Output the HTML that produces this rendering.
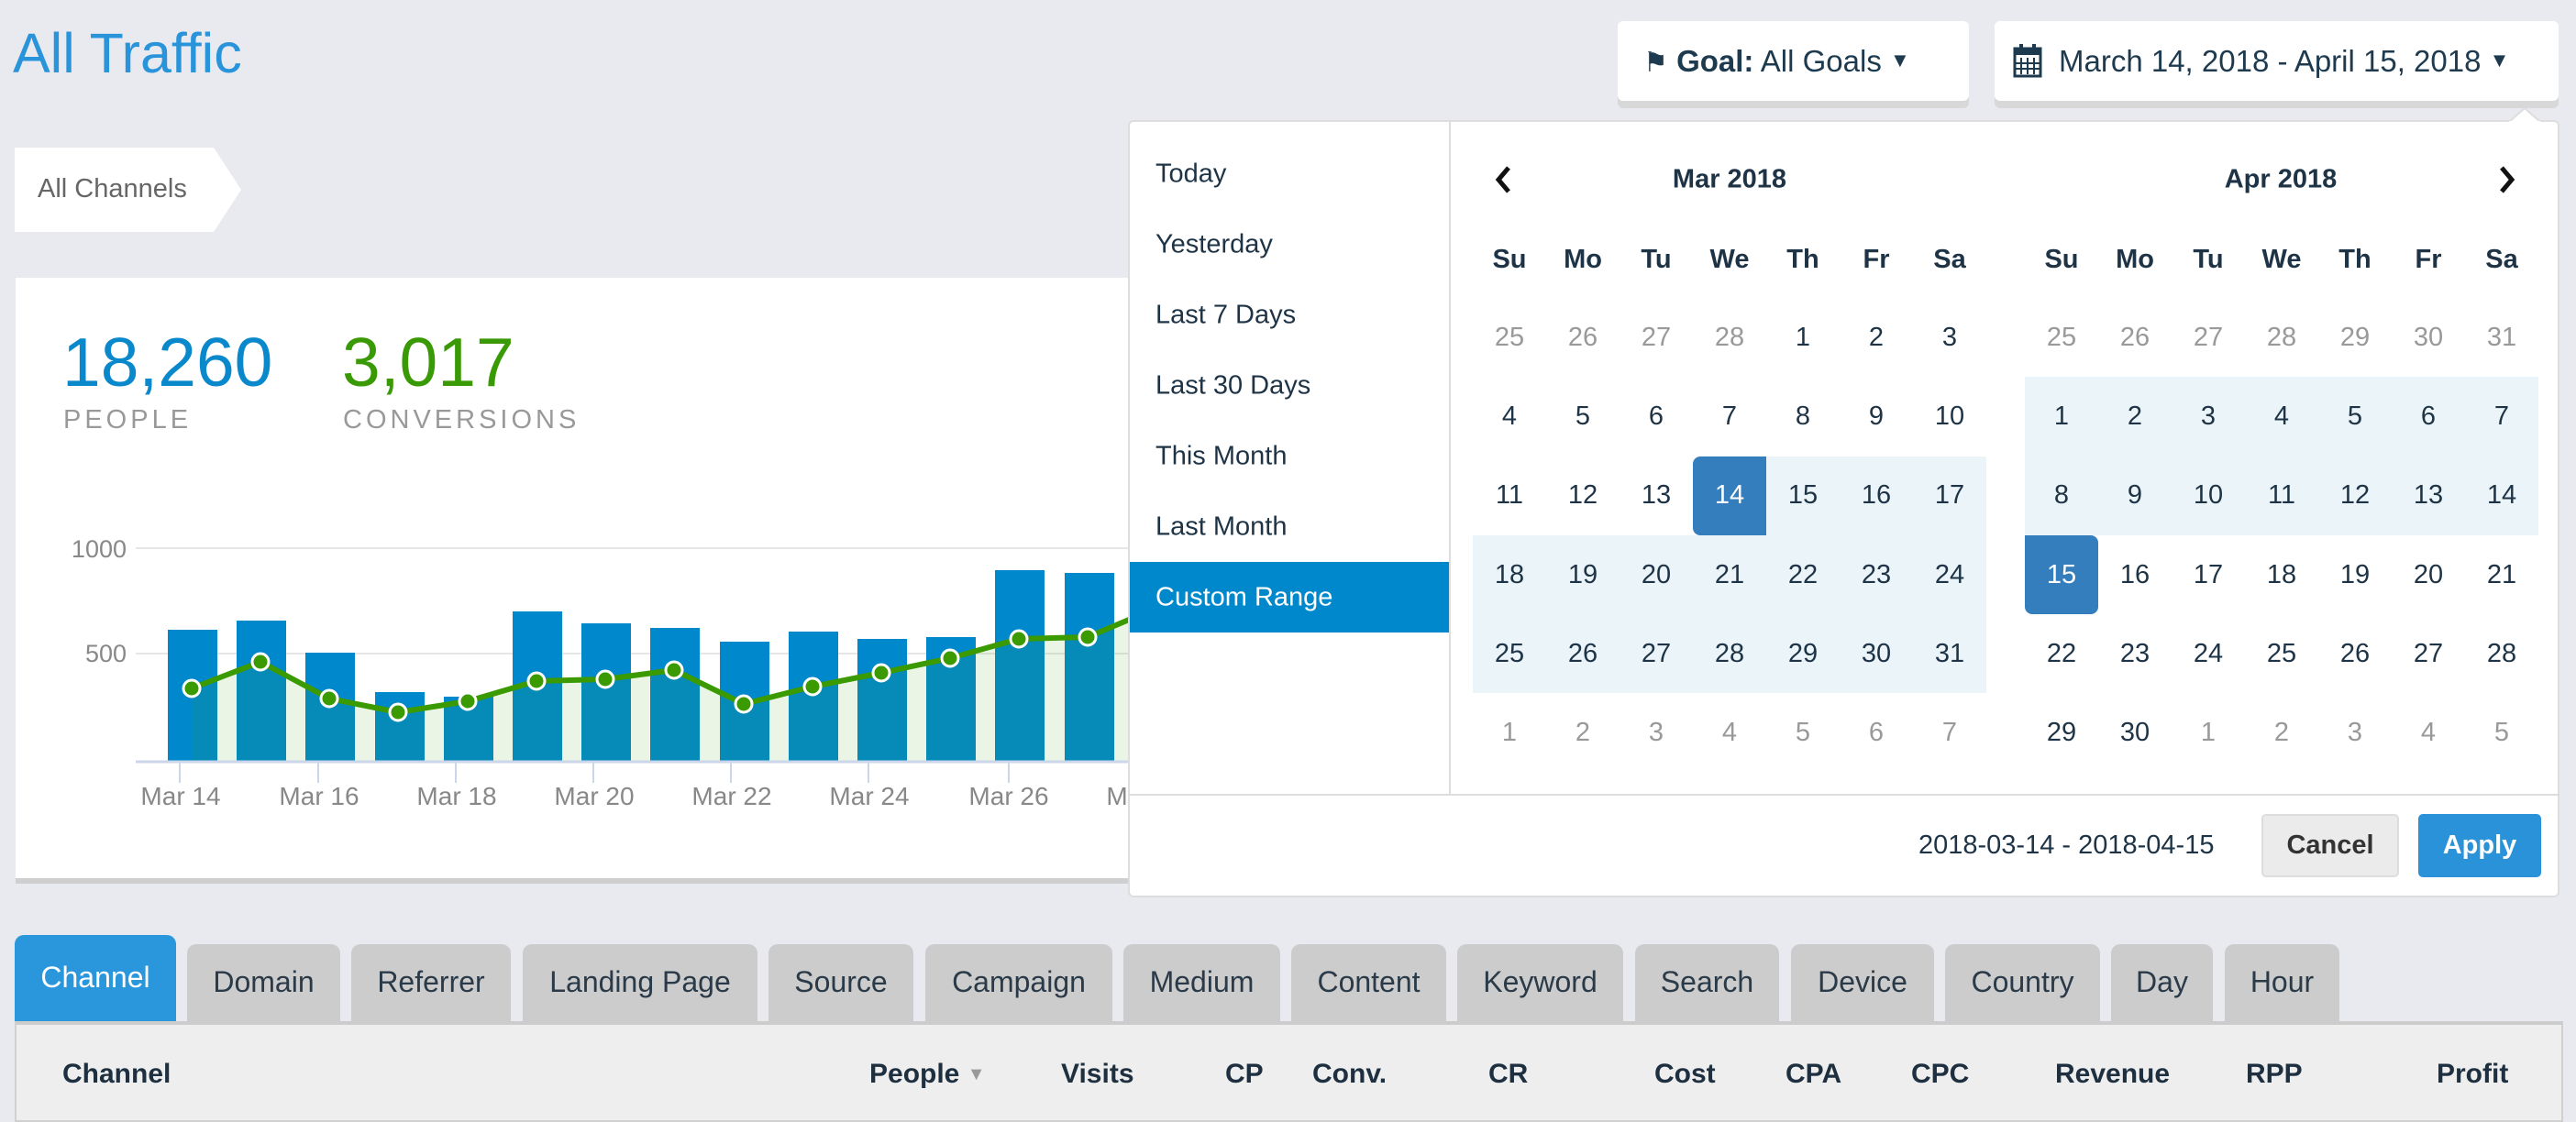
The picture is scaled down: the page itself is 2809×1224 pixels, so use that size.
<!DOCTYPE html>
<html><head><meta charset="utf-8">
<style>
*{box-sizing:border-box;margin:0;padding:0}
body{width:2809px;height:1216px;overflow:hidden;background:#e8eaf0;font-family:"Liberation Sans",sans-serif;color:#1e3446;position:relative}
.a{position:absolute;white-space:nowrap}
.btn{position:absolute;background:#fff;border-radius:6px;box-shadow:0 8px 0 #d8d8d8;}
.rng{position:absolute;left:1260px;font-size:29px;color:#1e3446;transform:translateY(-50%)}
.cell{position:absolute;width:80px;height:86px;line-height:86px;text-align:center;font-size:29px;color:#1e3446}
.off{color:#999}
.hd{font-weight:bold}
.tab{position:absolute;top:1030px;height:86px;background:#cccccc;border-radius:10px 10px 0 0;text-align:center;font-size:32px;line-height:82px;color:#2a3a48}
.th{position:absolute;top:1172px;transform:translateY(-50%);font-weight:bold;font-size:30px;color:#1e3040}
</style></head><body>
<div class="a" style="left:14px;top:23px;font-size:61px;color:#2a94db">All Traffic</div>
<svg class="a" style="left:16px;top:161px" width="250" height="92"><polygon points="0,0 217,0 247,46 217,92 0,92" fill="#fff"/></svg>
<div class="a" style="left:41px;top:190px;font-size:29px;color:#666">All Channels</div>

<!-- card -->
<div class="a" style="left:17px;top:303px;width:2200px;height:655px;background:#fff;box-shadow:0 6px 0 #cfcfcf"></div>
<div class="a" style="left:68px;top:352px;font-size:75px;color:#0a88cc">18,260</div>
<div class="a" style="left:373px;top:352px;font-size:75px;color:#3a9a06">3,017</div>
<div class="a" style="left:69px;top:442px;font-size:29px;color:#999;letter-spacing:4px">PEOPLE</div>
<div class="a" style="left:374px;top:442px;font-size:29px;color:#999;letter-spacing:4px">CONVERSIONS</div>
<svg class="a" style="left:0;top:0" width="1240" height="960">
<g fill="#888" font-size="27" font-family="Liberation Sans,sans-serif" text-anchor="end">
<text x="138" y="608">1000</text><text x="138" y="722">500</text></g>
<line x1="148" y1="598" x2="1240" y2="598" stroke="#e6e6e6" stroke-width="2"/>
<line x1="148" y1="713" x2="1240" y2="713" stroke="#e6e6e6" stroke-width="2"/>
<g fill="#0088cc">
<rect x="183" y="687" width="54" height="143"/><rect x="258" y="677" width="54" height="153"/><rect x="333" y="712" width="54" height="118"/><rect x="409" y="755" width="54" height="75"/><rect x="484" y="760" width="54" height="70"/><rect x="559" y="667" width="54" height="163"/><rect x="634" y="680" width="54" height="150"/><rect x="709" y="685" width="54" height="145"/><rect x="785" y="700" width="54" height="130"/><rect x="860" y="689" width="54" height="141"/><rect x="935" y="697" width="54" height="133"/><rect x="1010" y="695" width="54" height="135"/><rect x="1085" y="622" width="54" height="208"/><rect x="1161" y="625" width="54" height="205"/></g>
<polygon points="209,751 284,722 359,762 434,777 510,765 585,743 660,741 735,731 811,768 886,749 961,734 1036,718 1111,697 1186,695 1250,668 1250,830 209,830" fill="#3a9a00" fill-opacity="0.1"/>
<polyline points="209,751 284,722 359,762 434,777 510,765 585,743 660,741 735,731 811,768 886,749 961,734 1036,718 1111,697 1186,695 1250,668" fill="none" stroke="#3a9a00" stroke-width="6" stroke-linejoin="round"/>
<g fill="#3a9a00" stroke="#fff" stroke-width="3">
<circle cx="209" cy="751" r="9"/><circle cx="284" cy="722" r="9"/><circle cx="359" cy="762" r="9"/><circle cx="434" cy="777" r="9"/><circle cx="510" cy="765" r="9"/><circle cx="585" cy="743" r="9"/><circle cx="660" cy="741" r="9"/><circle cx="735" cy="731" r="9"/><circle cx="811" cy="768" r="9"/><circle cx="886" cy="749" r="9"/><circle cx="961" cy="734" r="9"/><circle cx="1036" cy="718" r="9"/><circle cx="1111" cy="697" r="9"/><circle cx="1186" cy="695" r="9"/></g>
<line x1="148" y1="831" x2="1240" y2="831" stroke="#ccd6eb" stroke-width="3"/>
<g stroke="#ccd6eb" stroke-width="2"><line x1="196" y1="832" x2="196" y2="854"/><line x1="347" y1="832" x2="347" y2="854"/><line x1="497" y1="832" x2="497" y2="854"/><line x1="647" y1="832" x2="647" y2="854"/><line x1="797" y1="832" x2="797" y2="854"/><line x1="947" y1="832" x2="947" y2="854"/><line x1="1100" y1="832" x2="1100" y2="854"/></g>
<g fill="#888" font-size="28" font-family="Liberation Sans,sans-serif" text-anchor="middle">
<text x="197" y="878">Mar 14</text><text x="348" y="878">Mar 16</text><text x="498" y="878">Mar 18</text><text x="648" y="878">Mar 20</text><text x="798" y="878">Mar 22</text><text x="948" y="878">Mar 24</text><text x="1100" y="878">Mar 26</text><text x="1250" y="878">Mar 28</text></g>
</svg>

<!-- top buttons -->
<div class="btn" style="left:1764px;top:23px;width:383px;height:87px"></div>
<div class="a" style="left:1792px;top:48px;font-size:33px;color:#1e3a4f"><span style="font-size:30px">⚑</span> <b>Goal:</b> All Goals <span style="font-size:22px;vertical-align:5px">▼</span></div>
<div class="btn" style="left:2175px;top:23px;width:615px;height:87px"></div>
<svg class="a" style="left:2195px;top:47px" width="32" height="38"><rect x="2" y="6" width="28" height="30" fill="none" stroke="#1e3a4f" stroke-width="3"/><rect x="2" y="6" width="28" height="7" fill="#1e3a4f"/><path d="M9 16v18M16 16v18M23 16v18M3 22h26M3 28h26" stroke="#1e3a4f" stroke-width="2"/><rect x="7" y="1" width="4" height="9" fill="#1e3a4f"/><rect x="21" y="1" width="4" height="9" fill="#1e3a4f"/></svg>
<div class="a" style="left:2245px;top:48px;font-size:33px;color:#1e3a4f">March 14, 2018 - April 15, 2018 <span style="font-size:22px;vertical-align:5px">▼</span></div>

<!-- dropdown -->
<div class="a" style="left:1230px;top:131px;width:1561px;height:848px;background:#fff;border:2px solid #ddd;border-radius:6px"></div>
<svg class="a" style="left:2736px;top:118px" width="34" height="16"><polygon points="0,15 17,0 34,15" fill="#fff" stroke="#ddd" stroke-width="2"/><rect x="0" y="14" width="34" height="3" fill="#fff"/></svg>
<div class="a" style="left:1580px;top:133px;width:2px;height:734px;background:#ddd"></div>
<div class="a" style="left:1232px;top:866px;width:1557px;height:2px;background:#ddd"></div>
<div class="a" style="left:1232px;top:613px;width:348px;height:77px;background:#0088cc"></div>
<div class="rng" style="top:190px">Today</div>
<div class="rng" style="top:267px">Yesterday</div>
<div class="rng" style="top:344px">Last 7 Days</div>
<div class="rng" style="top:421px">Last 30 Days</div>
<div class="rng" style="top:498px">This Month</div>
<div class="rng" style="top:575px">Last Month</div>
<div class="rng" style="top:652px;color:#fff">Custom Range</div>

<div class="a" style="left:1926px;top:498px;width:240px;height:86px;background:#ebf4f8"></div>
<div class="a" style="left:1606px;top:584px;width:560px;height:172px;background:#ebf4f8"></div>
<div class="a" style="left:1846px;top:498px;width:80px;height:86px;background:#357ebd;border-radius:8px 0 0 8px"></div>
<div class="a" style="left:2208px;top:411px;width:560px;height:173px;background:#ebf4f8"></div>
<div class="a" style="left:2208px;top:584px;width:80px;height:86px;background:#357ebd;border-radius:0 8px 8px 8px"></div>

<svg class="a" style="left:1630px;top:180px" width="20" height="32"><polyline points="15,3 4,16 15,29" fill="none" stroke="#111" stroke-width="5"/></svg>
<svg class="a" style="left:2723px;top:180px" width="20" height="32"><polyline points="5,3 16,16 5,29" fill="none" stroke="#111" stroke-width="5"/></svg>
<div class="a hd" style="left:1886px;top:196px;transform:translate(-50%,-50%);font-size:29px">Mar 2018</div>
<div class="a hd" style="left:2487px;top:196px;transform:translate(-50%,-50%);font-size:29px">Apr 2018</div>

<div id="cal"></div>
<script>
(function(){
var h='';var days=['Su','Mo','Tu','We','Th','Fr','Sa'];
function cal(x0,rows){
 for(var i=0;i<7;i++)h+='<div class="cell hd" style="left:'+(x0+i*80)+'px;top:240px">'+days[i]+'</div>';
 for(var r=0;r<6;r++)for(var c=0;c<7;c++){var d=rows[r][c];var cls='cell'+(d[1]?' off':'');var st=d[2]?'color:#fff;':'';
  h+='<div class="'+cls+'" style="'+st+'left:'+(x0+c*80)+'px;top:'+(325+r*86.2)+'px">'+d[0]+'</div>';}
}
function mk(list){var o=[];for(var r=0;r<6;r++)o.push(list.slice(r*7,r*7+7));return o;}
var m=[];[25,26,27,28].forEach(function(d){m.push([d,1])});for(var d=1;d<=31;d++)m.push([d,0,d==14]);for(d=1;d<=7;d++)m.push([d,1]);
var a=[];[25,26,27,28,29,30,31].forEach(function(d){a.push([d,1])});for(d=1;d<=30;d++)a.push([d,0,d==15]);for(d=1;d<=5;d++)a.push([d,1]);
cal(1606,mk(m));cal(2208,mk(a));
document.getElementById('cal').innerHTML=h;
})();
</script>

<div class="a" style="left:2092px;top:906px;font-size:29px">2018-03-14 - 2018-04-15</div>
<div class="a" style="left:2466px;top:888px;width:150px;height:69px;background:#ebebeb;border:2px solid #ddd;border-radius:5px;text-align:center;line-height:65px;font-size:29px;font-weight:bold;color:#333">Cancel</div>
<div class="a" style="left:2637px;top:888px;width:134px;height:69px;background:#2a92d8;border-radius:5px;text-align:center;line-height:69px;font-size:29px;font-weight:bold;color:#fff">Apply</div>

<!-- tabs -->
<div class="tab" style="left:16px;top:1020px;width:176px;height:96px;background:#2a97dd;color:#fff;line-height:92px">Channel</div>
<div class="tab" style="left:204px;width:167px">Domain</div>
<div class="tab" style="left:383px;width:174px">Referrer</div>
<div class="tab" style="left:570px;width:256px">Landing Page</div>
<div class="tab" style="left:838px;width:158px">Source</div>
<div class="tab" style="left:1009px;width:204px">Campaign</div>
<div class="tab" style="left:1225px;width:171px">Medium</div>
<div class="tab" style="left:1408px;width:169px">Content</div>
<div class="tab" style="left:1589px;width:181px">Keyword</div>
<div class="tab" style="left:1783px;width:157px">Search</div>
<div class="tab" style="left:1953px;width:156px">Device</div>
<div class="tab" style="left:2121px;width:169px">Country</div>
<div class="tab" style="left:2302px;width:111px">Day</div>
<div class="tab" style="left:2426px;width:125px">Hour</div>
<div class="a" style="left:16px;top:1114px;width:2779px;height:110px;background:#eeeeee;border:2px solid #d0d0d0;border-top:4px solid #cccccc"></div>
<div class="th" style="left:68px">Channel</div>
<div class="th" style="left:948px">People <span style="color:#999;font-size:20px;vertical-align:3px">▼</span></div>
<div class="th" style="left:1157px">Visits</div>
<div class="th" style="left:1336px">CP</div>
<div class="th" style="left:1431px">Conv.</div>
<div class="th" style="left:1623px">CR</div>
<div class="th" style="left:1804px">Cost</div>
<div class="th" style="left:1947px">CPA</div>
<div class="th" style="left:2084px">CPC</div>
<div class="th" style="left:2241px">Revenue</div>
<div class="th" style="left:2449px">RPP</div>
<div class="th" style="left:2657px">Profit</div>
</body></html>
